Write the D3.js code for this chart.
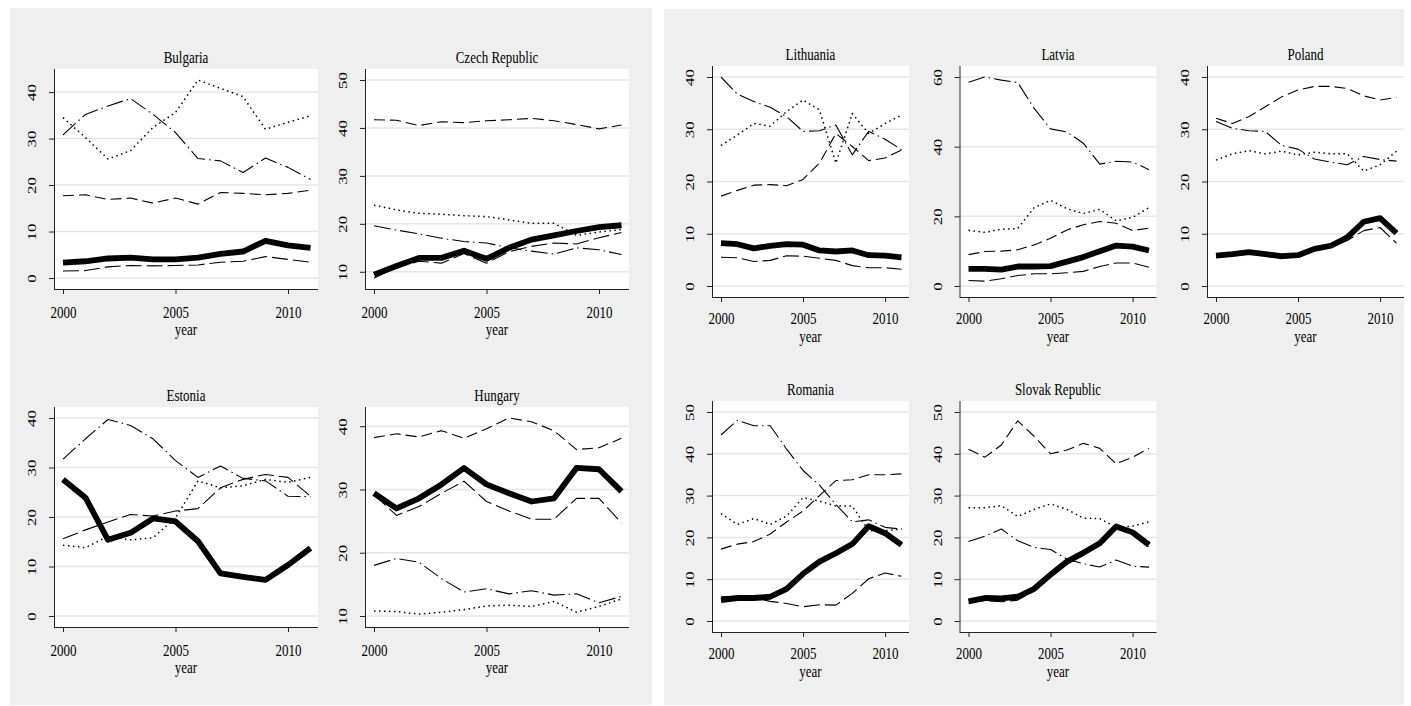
<!DOCTYPE html>
<html lang="en">
<head>
<meta charset="UTF-8">
<title>Small multiples by country</title>
<script src="https://d3js.org/d3.v7.min.js"></script>
<style>
  body { margin: 0; background: #fff; }
  svg text { font-family: "Liberation Serif", "Times New Roman", serif; fill: #000; }
</style>
</head>
<body>
<svg id="chart" width="1411" height="706"></svg>
<script>

const years = [2000, 2001, 2002, 2003, 2004, 2005, 2006, 2007, 2008, 2009, 2010, 2011];
const xTicks = [2000, 2005, 2010];

// rows: thick solid, long dash, dash, dot, long dash-dot (empty row = not shown)
const bulgaria = [
  [3.3, 3.6, 4.2, 4.4, 4.0, 4.0, 4.4, 5.2, 5.7, 8.0, 7.0, 6.5],
  [1.5, 1.6, 2.4, 2.7, 2.6, 2.7, 2.8, 3.4, 3.6, 4.6, 4.0, 3.4],
  [17.7, 17.9, 16.9, 17.2, 16.1, 17.2, 15.9, 18.4, 18.2, 17.9, 18.2, 18.9],
  [34.5, 30.2, 25.6, 27.4, 32.4, 35.6, 42.6, 40.8, 39.0, 32.0, 33.5, 34.9],
  [30.8, 35.2, 37.0, 38.6, 35.2, 31.3, 25.7, 25.2, 22.7, 25.8, 23.8, 21.2]
];
const czech = [
  [9.4, 11.2, 12.9, 12.9, 14.4, 12.7, 15.0, 16.7, 17.6, 18.5, 19.3, 19.7],
  [8.7, 10.9, 12.2, 11.8, 13.8, 11.8, 14.2, 15.3, 16.0, 15.8, 17.1, 18.2],
  [41.7, 41.6, 40.5, 41.3, 41.1, 41.5, 41.7, 42.0, 41.5, 40.7, 39.8, 40.6],
  [23.9, 22.9, 22.2, 22.0, 21.7, 21.5, 20.8, 20.1, 20.1, 17.6, 18.3, 18.8],
  [19.6, 18.7, 17.9, 17.0, 16.3, 16.0, 15.0, 14.3, 13.7, 15.0, 14.6, 13.6]
];
const estonia = [
  [27.6, 23.9, 15.4, 16.8, 19.7, 19.1, 15.1, 8.6, 7.9, 7.3, 10.3, 13.7],
  [15.6, 17.4, 19.0, 20.5, 20.2, 21.2, 21.7, 25.9, 27.6, 28.6, 28.0, 24.2],
  [],
  [14.3, 13.8, 16.1, 15.4, 15.8, 19.8, 27.3, 25.9, 26.3, 27.6, 27.0, 28.0],
  [31.7, 35.8, 39.7, 38.5, 35.8, 31.4, 28.0, 30.3, 27.8, 27.3, 24.2, 24.1]
];
const hungary = [
  [29.4, 27.0, 28.6, 30.8, 33.4, 30.8, 29.4, 28.1, 28.6, 33.4, 33.2, 29.7],
  [29.2, 25.9, 27.3, 29.4, 31.3, 28.1, 26.6, 25.3, 25.3, 28.6, 28.6, 24.7],
  [38.2, 38.8, 38.3, 39.3, 38.1, 39.6, 41.3, 40.7, 39.3, 36.3, 36.6, 38.1],
  [10.8, 10.7, 10.3, 10.6, 11.0, 11.6, 11.7, 11.5, 12.3, 10.6, 11.5, 12.7],
  [18.0, 19.1, 18.5, 15.9, 13.8, 14.3, 13.5, 14.0, 13.3, 13.5, 12.1, 13.1]
];
const lithuania = [
  [8.2, 8.0, 7.2, 7.7, 8.0, 7.9, 6.8, 6.6, 6.8, 5.9, 5.8, 5.5],
  [5.5, 5.4, 4.7, 4.9, 5.8, 5.7, 5.3, 4.9, 3.9, 3.5, 3.5, 3.2],
  [17.2, 18.3, 19.3, 19.4, 19.2, 20.4, 23.5, 29.2, 26.7, 24.0, 24.5, 26.0],
  [26.9, 28.9, 31.1, 30.6, 33.4, 35.6, 33.7, 23.5, 33.0, 29.2, 31.1, 32.7],
  [40.0, 36.7, 35.3, 34.2, 32.4, 29.6, 29.7, 30.8, 25.1, 29.6, 28.1, 26.1]
];
const latvia = [
  [4.9, 4.9, 4.7, 5.6, 5.6, 5.7, 7.0, 8.3, 10.0, 11.6, 11.3, 10.2],
  [1.6, 1.4, 2.1, 3.0, 3.5, 3.5, 3.8, 4.2, 5.6, 6.6, 6.6, 5.4],
  [9.0, 9.9, 10.0, 10.4, 11.8, 13.7, 16.1, 17.6, 18.5, 18.0, 15.9, 16.6],
  [16.0, 15.4, 16.3, 16.5, 22.5, 24.6, 22.2, 20.8, 22.0, 18.7, 19.7, 22.5],
  [58.5, 60.0, 59.1, 58.4, 51.0, 45.1, 44.2, 41.0, 35.0, 35.8, 35.6, 33.4]
];
const poland = [
  [5.8, 6.1, 6.5, 6.1, 5.7, 5.9, 7.1, 7.7, 9.3, 12.3, 13.0, 10.1],
  [5.5, 5.9, 6.1, 5.8, 5.2, 5.7, 6.8, 7.4, 8.7, 10.6, 11.2, 8.2],
  [32.1, 31.1, 32.4, 34.3, 36.2, 37.5, 38.2, 38.2, 37.8, 36.4, 35.6, 36.1],
  [24.1, 25.3, 25.9, 25.3, 25.8, 25.1, 25.6, 25.3, 25.3, 22.0, 23.2, 25.8],
  [31.5, 30.2, 29.7, 29.6, 26.9, 26.2, 24.3, 23.7, 23.2, 24.8, 24.2, 23.9]
];
const romania = [
  [5.0, 5.5, 5.5, 5.8, 7.7, 11.3, 14.2, 16.2, 18.4, 22.7, 21.0, 18.2],
  [5.8, 6.0, 5.5, 4.7, 4.2, 3.4, 3.9, 3.8, 6.6, 10.1, 11.5, 10.7],
  [17.2, 18.4, 19.0, 20.8, 23.7, 26.3, 30.0, 33.6, 33.8, 35.0, 35.0, 35.2],
  [25.7, 23.1, 24.5, 23.1, 25.1, 29.5, 28.7, 27.5, 27.5, 21.6, 21.6, 22.0],
  [44.5, 48.0, 46.7, 46.7, 41.1, 36.0, 32.5, 27.9, 23.7, 24.2, 22.4, 22.0]
];
const slovakia = [
  [4.7, 5.5, 5.4, 5.8, 7.7, 11.1, 14.2, 16.3, 18.6, 22.6, 21.2, 18.2],
  [4.3, 4.9, 4.6, 5.0, 7.2, 10.8, 13.9, 16.0, 18.3, 22.3, 20.8, 17.8],
  [41.1, 39.2, 42.1, 47.9, 44.2, 40.0, 40.9, 42.5, 41.3, 37.6, 39.2, 41.3],
  [27.1, 27.1, 27.6, 25.0, 26.7, 28.0, 26.7, 24.6, 24.5, 22.4, 22.7, 23.7],
  [19.0, 20.3, 22.0, 19.2, 17.6, 17.1, 14.8, 13.7, 12.9, 14.6, 13.1, 12.9]
];

const leftNames = ["Bulgaria", "Czech Republic", "Estonia", "Hungary"];
const leftData = [bulgaria, czech, estonia, hungary];
const leftTicks = [[0, 10, 20, 30, 40], [10, 20, 30, 40, 50], [0, 10, 20, 30, 40], [10, 20, 30, 40]];

const rightNames = ["Lithuania", "Latvia", "Poland", "Romania", "Slovak Republic"];
const rightData = [lithuania, latvia, poland, romania, slovakia];
const rightTicks = [[0, 10, 20, 30, 40], [0, 20, 40, 60], [0, 10, 20, 30, 40], [0, 10, 20, 30, 40, 50], [0, 10, 20, 30, 40, 50]];

const styles = [
  { width: 5.8, dash: null },
  { width: 1.1, dash: "16,5" },
  { width: 1.1, dash: "11,5" },
  { width: 1.5, dash: "1.5,3.5" },
  { width: 1.1, dash: "17,4,1.5,4" }
];

// the original graph is stretched vertically, so are its letters
const stretch = 'scale(1,1.3)';
const fontSize = '13px';

const svg = d3.select('#chart');

// gray backgrounds of the two combined graphs
svg.append('rect').attr('x', 10).attr('y', 8).attr('width', 642).attr('height', 697).attr('fill', '#efefef');
svg.append('rect').attr('x', 664).attr('y', 9).attr('width', 740).attr('height', 696).attr('fill', '#efefef');

function panel(g, name, series, ticks, w, h, labelGap, yearGap) {
    g.append('rect').attr('width', w).attr('height', h).attr('fill', 'white');

    const all = series.flat().concat(ticks);
    const x = d3.scaleLinear().domain([years[0], years[years.length - 1]]).range([9, w - 7.5]);
    const y = d3.scaleLinear().domain(d3.extent(all)).range([h - 11, 11]);

    g.selectAll('line.grid')
        .data(ticks)
        .enter()
        .append('line')
        .attr('class', 'grid')
        .attr('x1', 0)
        .attr('x2', w)
        .attr('y1', d => y(d))
        .attr('y2', d => y(d))
        .style('stroke', '#e6e6e6')
        .style('stroke-width', '1.5px');

    const line = d3.line().x((d, i) => x(years[i])).y(d => y(d));

    // thin lines first, thick one on top
    [1, 2, 3, 4, 0].forEach(k => {
        if (!series[k].length) return;
        g.append('path')
            .attr('d', line(series[k]))
            .style('fill', 'none')
            .style('stroke', 'black')
            .style('stroke-width', styles[k].width + 'px')
            .style('stroke-dasharray', styles[k].dash)
            .style('stroke-linejoin', 'round');
    });

    const yAxis = d3.axisLeft(y).tickValues(ticks).tickSize(5).tickSizeOuter(0);
    const yG = g.append('g').call(yAxis);
    yG.select('.domain').remove();
    yG.selectAll('line').style('stroke', '#222');
    yG.selectAll('text')
        .attr('x', 0)
        .attr('y', 0)
        .attr('dy', 0)
        .attr('transform', `translate(-18,0) ${stretch} rotate(-90)`)
        .attr('text-anchor', 'middle')
        .attr('fill', '#000')
        .style('font-size', fontSize)
        .style('font-family', '"Liberation Serif", serif');

    const xAxis = d3.axisBottom(x).tickValues(xTicks).tickFormat(d3.format('d')).tickSize(5).tickSizeOuter(0);
    const xG = g.append('g').attr('transform', `translate(0,${h})`).call(xAxis);
    xG.select('.domain').remove();
    xG.selectAll('line').style('stroke', '#222');
    xG.selectAll('text')
        .attr('y', 0)
        .attr('dy', 0)
        .attr('transform', `translate(0,${labelGap}) ${stretch}`)
        .attr('fill', '#000')
        .style('font-size', fontSize)
        .style('font-family', '"Liberation Serif", serif');

    g.append('line').attr('x1', 0.5).attr('x2', 0.5).attr('y1', 0).attr('y2', h).style('stroke', '#222');
    g.append('line').attr('x1', 0).attr('x2', w).attr('y1', h + 0.5).attr('y2', h + 0.5).style('stroke', '#222');

    g.append('text')
        .attr('transform', `translate(${w / 2},-6) ${stretch}`)
        .attr('text-anchor', 'middle')
        .style('font-size', fontSize)
        .text(name);

    g.append('text')
        .attr('transform', `translate(${w / 2},${h + yearGap}) ${stretch}`)
        .attr('text-anchor', 'middle')
        .style('font-size', fontSize)
        .text('year');
}

leftNames.forEach((name, i) => {
    const c = i % 2, r = Math.floor(i / 2);
    const g = svg.append('g').attr('transform', `translate(${54 + 311 * c},${69 + 338 * r})`);
    panel(g, name, leftData[i], leftTicks[i], 264, 220, 29, 46);
});

rightNames.forEach((name, i) => {
    const c = i % 3, r = Math.floor(i / 3);
    const g = svg.append('g').attr('transform', `translate(${712 + 247.5 * c},${66 + 335 * r})`);
    panel(g, name, rightData[i], rightTicks[i], 197, 231, 27, 45);
});

</script>
</body>
</html>
